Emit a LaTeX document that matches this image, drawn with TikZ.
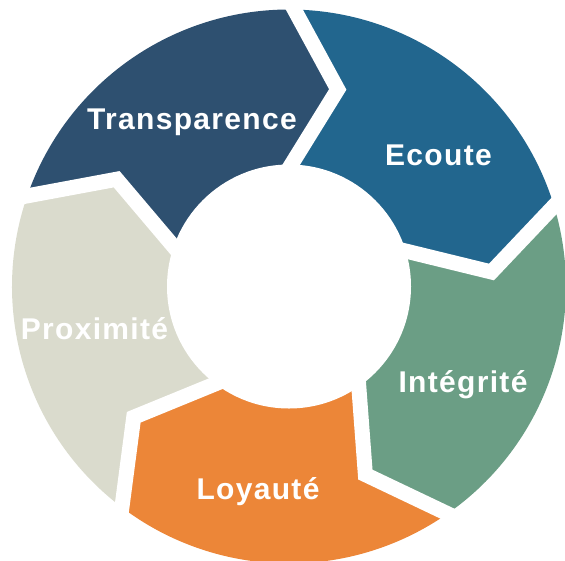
\documentclass[tikz,border=0pt]{standalone}
\usepackage{fontspec}
\setmainfont{Liberation Sans}
\usetikzlibrary{calc}
\definecolor{cT}{HTML}{2E5070}
\definecolor{cE}{HTML}{22668E}
\definecolor{cI}{HTML}{6B9E85}
\definecolor{cL}{HTML}{EC8638}
\definecolor{cP}{HTML}{DADBCD}
\begin{document}
\begin{tikzpicture}[x=1pt,y=1pt,
  lbl/.style={text=white, font=\fontsize{30}{36}\selectfont\bfseries\addfontfeature{LetterSpace=4.4}, inner sep=0pt, anchor=base},
  gap/.style={draw=white, line width=15pt, line join=miter}]
\useasboundingbox (0,0) rectangle (565,-560);
\clip (0,0) rectangle (565,-560);
\begin{scope}[shift={(289,-286.5)}]
  \coordinate (c) at (0,0);
  \foreach \k/\t in {0/88.9,1/16.9,2/-55.1,3/-127.1,4/-199.1}{
    \coordinate (i\k) at (\t:122);
    \coordinate (p\k) at (\t-12.8:203);
    \coordinate (o\k) at (\t:277);
  }
  % segments
  \fill[cE] (c) -- (i0) -- (p0) -- (o0) arc[start angle=88.9, end angle=16.9, radius=277] -- (p1) -- (i1) -- cycle;
  \fill[cI] (c) -- (i1) -- (p1) -- (o1) arc[start angle=16.9, end angle=-55.1, radius=277] -- (p2) -- (i2) -- cycle;
  \fill[cL] (c) -- (i2) -- (p2) -- (o2) arc[start angle=-55.1, end angle=-127.1, radius=277] -- (p3) -- (i3) -- cycle;
  \fill[cP] (c) -- (i3) -- (p3) -- (o3) arc[start angle=-127.1, end angle=-199.1, radius=277] -- (p4) -- (i4) -- cycle;
  \fill[cT] (c) -- (i4) -- (p4) -- (o4) arc[start angle=160.9, end angle=88.9, radius=277] -- (p0) -- (i0) -- cycle;
  % gaps
  \foreach \k in {0,...,4}{
    \draw[gap] ($(p\k)!1.3!(i\k)$) -- (p\k) -- ($(p\k)!1.3!(o\k)$);
  }
  % centre
  \fill[white] (c) circle[radius=122];
\end{scope}
\node[lbl] (tT) at (192,-129) {Transparence};
\node[lbl] (tE) at (438.5,-165) {Ecoute};
\node[lbl] (tP) at (94.5,-339) {Proximité};
\node[lbl] (tI) at (463,-392) {Intégrité};
\node[lbl] (tL) at (258,-499) {Loyauté};
\end{tikzpicture}
\end{document}
